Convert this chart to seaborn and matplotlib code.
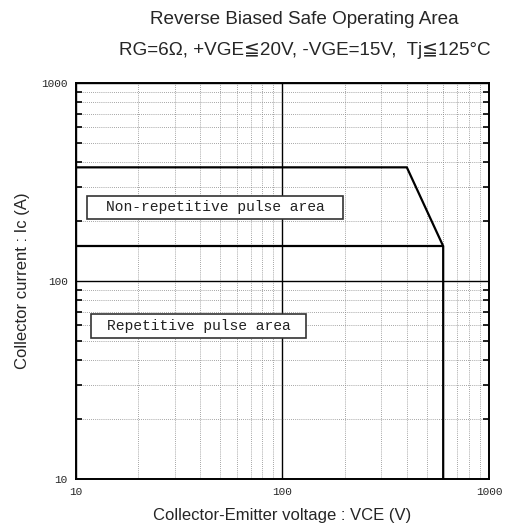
import matplotlib
matplotlib.use("Agg")
import matplotlib.pyplot as plt
import matplotlib.ticker as mticker
from matplotlib.patches import Rectangle
import pandas as pd
import seaborn as sns

# RBSOA boundary
nonrep_vce = [10, 400, 600, 600]
nonrep_ic = [375, 375, 150, 10]
rep_vce = [10, 600]
rep_ic = [150, 150]

x_ticks = [10, 100, 1000]
y_ticks = [10, 100, 1000]
tick_labels = ["10", "100", "1000"]

sns.set_theme(style="white")
plt.rcParams['font.family'] = ['Liberation Sans', 'DejaVu Sans']

fig = plt.figure(figsize=(5.08, 5.31), dpi=100)
ax = fig.add_axes([0.1496, 0.0979, 0.8130, 0.7458])
ax.set_xscale("log")
ax.set_yscale("log")
ax.set_xlim(10, 1000)
ax.set_ylim(10, 1000)

# grid: dotted minor lines, solid at the decade
ax.xaxis.set_minor_locator(mticker.LogLocator(base=10, subs=range(2, 10)))
ax.yaxis.set_minor_locator(mticker.LogLocator(base=10, subs=range(2, 10)))
ax.grid(which="minor", color="#888888", linestyle=(0, (1, 1.5)), linewidth=0.6)
ax.grid(which="major", color="black", linestyle="-", linewidth=1.0)

df1 = pd.DataFrame({"vce": nonrep_vce, "ic": nonrep_ic})
df2 = pd.DataFrame({"vce": rep_vce, "ic": rep_ic})
sns.lineplot(data=df1, x="vce", y="ic", sort=False, estimator=None,
             color="black", linewidth=1.6, ax=ax)
sns.lineplot(data=df2, x="vce", y="ic", sort=False, estimator=None,
             color="black", linewidth=1.6, ax=ax)

# label boxes (axes fractions)
for (x0, y0, w, h, label) in [(0.027, 0.657, 0.620, 0.058, "Non-repetitive pulse area"),
                              (0.036, 0.356, 0.521, 0.061, "Repetitive pulse area")]:
    ax.add_patch(Rectangle((x0, y0), w, h, transform=ax.transAxes, facecolor="white",
                           edgecolor="#333333", linewidth=1.2, zorder=3))
    ax.text(x0 + w / 2, y0 + h / 2, label, transform=ax.transAxes, fontsize=10.5,
            family="Liberation Mono", color="#222222", va="center", ha="center", zorder=4)

ax.set_xticks(x_ticks)
ax.set_xticklabels(tick_labels, family="Liberation Mono", fontsize=8)
ax.set_yticks(y_ticks)
ax.set_yticklabels(tick_labels, family="Liberation Mono", fontsize=8)
ax.tick_params(which="major", length=0, pad=6)
ax.tick_params(axis="y", which="minor", direction="in", length=4, width=1.2,
               left=True, right=True, color="black")
ax.tick_params(axis="x", which="minor", length=0)

for s in ax.spines.values():
    s.set_color("black")
    s.set_linewidth(1.4)

ax.set_xlabel("Collector-Emitter voltage : VCE (V)", fontsize=12, labelpad=8)
ax.set_ylabel("Collector current : Ic (A)", fontsize=12, labelpad=8)

fig.text(0.60, 0.963, "Reverse Biased Safe Operating Area", ha="center", va="center", fontsize=13.6)
fig.text(0.60, 0.904, "RG=6\u03a9, +VGE\u226620V, -VGE=15V,  Tj\u2266125\u00b0C",
         ha="center", va="center", fontsize=13.6)

fig.savefig("out.png", dpi=100)
